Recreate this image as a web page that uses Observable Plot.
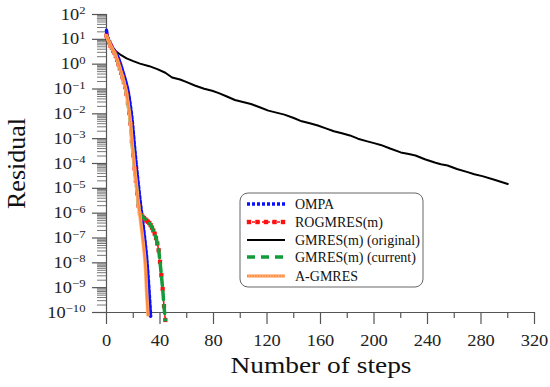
<!DOCTYPE html>
<html>
<head>
<meta charset="utf-8">
<script src="https://cdn.jsdelivr.net/npm/d3@7"></script>
<script src="https://cdn.jsdelivr.net/npm/@observablehq/plot@0.6"></script>
<style>
  html, body { margin: 0; padding: 0; background: #fff; }
  #chart { width: 550px; height: 387px; }
  #chart svg text { font-family: "Liberation Serif", "Times New Roman", serif !important; }
</style>
</head>
<body>
<div id="chart"></div>
<script>
// ---- Data ----
const ompaSteps = [0,1,2,3,4,5,6,7,8,9,10,11,12,13,14,15,16,17,18,19,20,21,22,23,24,25,26,27,28,29,30,31,32,33];
const ompaRes   = [23,11,8.5,6.6,5.2,4.2,3.5,2.9,2.3,1.7,1.2,0.82,0.55,0.36,0.24,0.15,0.087,0.043,0.018,6.8e-3,1.8e-3,4.3e-4,1.2e-4,3.5e-5,1.1e-5,3.5e-6,1.26e-6,4.8e-7,1.7e-7,5.6e-8,1.6e-8,3.2e-9,5.0e-10,7.1e-11];

const rogSteps = [0,1,2,3,4,5,6,7,8,9,10,11,12,13,14,15,16,17,18,19,20,21,22,23,24,25,26,27,28,29,30,31,32,33,34,35,36,37,38,39,40,41,42,43,44];
const rogRes   = [14,10,7.6,5.6,4.5,3.5,2.9,2.1,1.5,1.0,0.68,0.45,0.30,0.19,0.12,0.063,0.028,0.011,4.0e-3,7.9e-4,2.2e-4,6.3e-5,2.0e-5,6.3e-6,2.0e-6,1.0e-6,8.3e-7,7.1e-7,6.3e-7,5.6e-7,5.0e-7,4.5e-7,4.0e-7,3.3e-7,2.6e-7,2.0e-7,1.5e-7,1.0e-7,6.0e-8,3.2e-8,1.1e-8,3.2e-9,8.9e-10,1.8e-10,5.0e-11];

const origSteps = [0,1,2,4,7,11,15,20,25,32,38,44,49,55,60,66,73,79,84,90,96,102,108,115,121,127,133,140,146,152,158,164,170,176,182,188,195,200,205,212,220,226,231,238,246,250,255,262,270,275,281,290,300];
const origRes   = [10,8.5,7.1,5.0,3.3,2.3,1.7,1.32,1.05,0.83,0.63,0.45,0.29,0.24,0.19,0.138,0.102,0.085,0.068,0.050,0.036,0.030,0.025,0.018,0.0135,0.0112,0.0093,0.0068,0.0050,0.0042,0.0034,0.0026,0.0020,0.00166,0.00135,0.0010,7.8e-4,6.6e-4,5.6e-4,4.0e-4,2.8e-4,2.4e-4,2.1e-4,1.48e-4,1.07e-4,9.3e-5,8.3e-5,6.0e-5,4.5e-5,3.7e-5,3.1e-5,2.2e-5,1.5e-5];

const curSteps = [0,1,2,3,4,5,6,7,8,9,10,11,12,13,14,15,16,17,18,19,20,21,22,23,24,25,26,27,28,29,30,31,32,33,34,35,36,37,38,39,40,41,42,43,44];
const curRes   = [14,10,7.6,5.6,4.5,3.5,2.9,2.1,1.5,1.0,0.68,0.45,0.30,0.19,0.12,0.063,0.028,0.011,4.0e-3,7.9e-4,2.2e-4,6.3e-5,2.0e-5,6.3e-6,2.0e-6,1.0e-6,8.3e-7,7.1e-7,6.3e-7,5.6e-7,5.0e-7,4.5e-7,4.0e-7,3.3e-7,2.6e-7,2.0e-7,1.5e-7,1.0e-7,6.0e-8,3.2e-8,1.1e-8,3.2e-9,8.9e-10,1.8e-10,5.0e-11];

const agmSteps = [0,1,2,3,4,5,6,7,8,9,10,11,12,13,14,15,16,17,18,19,20,21,22,23,24,25,26,27,28,29,30,31];
const agmRes   = [14,10,7.6,5.6,4.5,3.5,2.9,2.1,1.5,1.0,0.68,0.45,0.30,0.19,0.12,0.063,0.028,0.011,4.0e-3,7.9e-4,2.2e-4,6.3e-5,2.0e-5,6.3e-6,2.0e-6,7.9e-7,2.8e-7,1.0e-7,3.2e-8,7.9e-9,6.3e-10,7.9e-11];

const seriesNames = ["OMPA", "ROGMRES(m)", "GMRES(m) (original)", "GMRES(m) (current)", "A-GMRES"];

// ---- Ticks ----
const xMajorTicks = [0,40,80,120,160,200,240,280,320];
const xMinorTicks = [20,60,100,140,180,220,260,300];
const yMajorTicks = [1e-10,1e-9,1e-8,1e-7,1e-6,1e-5,1e-4,1e-3,1e-2,1e-1,1e0,1e1,1e2];
const yMinorTicks = [];
for (let k = -10; k < 2; k++) for (let m = 2; m <= 9; m++) yMinorTicks.push(m * Math.pow(10, k));

const xTitle = "Number of steps";
const yTitle = "Residual";

const toRows = (steps, res) => steps.map((s, i) => ({step: s, res: res[i]}));
const ompa = toRows(ompaSteps, ompaRes);
const rog = toRows(rogSteps, rogRes);
const orig = toRows(origSteps, origRes);
const cur = toRows(curSteps, curRes);
const agm = toRows(agmSteps, agmRes);

const axisColor = "#555";
const FONT = "Liberation Serif, Times New Roman, serif";

const colors = {
  ompa: "#0a10ff",
  rog: "#ff1010",
  orig: "#000000",
  cur: "#139a3a",
  agm: "#ff8a3a"
};

const chart = Plot.plot({
  width: 550,
  height: 387,
  marginLeft: 106,
  marginRight: 16,
  marginTop: 14,
  marginBottom: 75,
  style: {fontFamily: FONT, background: "#fff", color: "#222"},
  x: {domain: [0, 320], label: null},
  y: {type: "log", domain: [1e-10, 100], label: null},
  marks: [
    Plot.axisY({ticks: yMinorTicks, tickSize: 9, tickFormat: () => "", stroke: "#777", strokeWidth: 1, label: null}),
    Plot.axisY({ticks: yMajorTicks, tickSize: 14, tickPadding: 7, fontSize: 16, fontFamily: FONT, fill: "#222", stroke: axisColor, strokeWidth: 1.2,
      tickFormat: d => "10^" + Math.round(Math.log10(d)), label: null}),
    Plot.axisX({ticks: xMinorTicks, tickSize: 6, tickFormat: () => "", stroke: axisColor, strokeWidth: 1.2, label: null}),
    Plot.axisX({ticks: xMajorTicks, tickSize: 12, tickPadding: 10, fontSize: 16, fontFamily: FONT, fill: "#222", stroke: axisColor, strokeWidth: 1.2, label: null}),
    Plot.ruleY([1e-10], {stroke: axisColor, strokeWidth: 1.2, insetLeft: -13}),
    Plot.ruleX([0], {stroke: axisColor, strokeWidth: 1.2}),
    // series
    Plot.line(orig, {x: "step", y: "res", stroke: colors.orig, strokeWidth: 2}),
    Plot.line(ompa, {x: "step", y: "res", stroke: colors.ompa, strokeWidth: 3.5, strokeDasharray: "3,2", curve: "catmull-rom"}),
    Plot.line(rog, {x: "step", y: "res", stroke: colors.rog, strokeWidth: 1.6, strokeDasharray: "3,2", curve: "catmull-rom"}),
    Plot.dot(rog, {x: "step", y: "res", fill: colors.rog, symbol: "square", r: 2.4}),
    Plot.line(cur, {x: "step", y: "res", stroke: colors.cur, strokeWidth: 3.5, strokeDasharray: "8,6", curve: "catmull-rom"}),
    Plot.line(agm, {x: "step", y: "res", stroke: "#ffb37f", strokeWidth: 3.5, curve: "catmull-rom"}),
    Plot.line(agm, {x: "step", y: "res", stroke: colors.agm, strokeWidth: 2.2, strokeDasharray: "1.5,1.2", curve: "catmull-rom"})
  ]
});

document.getElementById("chart").appendChild(chart);

const svg = d3.select(chart);

// superscript exponents on the y tick labels; widen tick labels slightly like the reference
svg.selectAll("text").each(function () {
  const t = d3.select(this);
  const s = t.text();
  if (s === "") return;
  if (/^10\^-?\d+$/.test(s)) {
    const exp = s.split("^")[1].replace("-", "\u2212");
    t.text("");
    t.append("tspan").text("10");
    t.append("tspan").attr("dy", "-0.5em").attr("font-size", "11px").text(exp);
  }
  try {
    const len = this.getComputedTextLength();
    if (len > 0) t.attr("textLength", (len * 1.15).toFixed(1)).attr("lengthAdjust", "spacingAndGlyphs");
  } catch (e) {}
});

// axis titles
svg.append("text")
  .attr("x", 321).attr("y", 373)
  .attr("text-anchor", "middle")
  .attr("font-size", 23).attr("fill", "#111")
  .attr("textLength", 181).attr("lengthAdjust", "spacingAndGlyphs")
  .text(xTitle);

svg.append("text")
  .attr("transform", "translate(25,163.5) rotate(-90)")
  .attr("text-anchor", "middle")
  .attr("font-size", 26).attr("fill", "#111")
  .text(yTitle);

// legend
const lg = svg.append("g");
lg.append("rect").attr("x", 240).attr("y", 193).attr("width", 183).attr("height", 94)
  .attr("rx", 8).attr("fill", "#fff").attr("stroke", "#666").attr("stroke-width", 1);
const rowsY = [204, 222, 240, 257, 276];
const x0 = 247, x1 = 285;
const samples = [
  g => g.append("line").attr("stroke", colors.ompa).attr("stroke-width", 3.5).attr("stroke-dasharray", "3,2"),
  g => g.append("line").attr("stroke", colors.rog).attr("stroke-width", 1.6).attr("stroke-dasharray", "3,2"),
  g => g.append("line").attr("stroke", colors.orig).attr("stroke-width", 2),
  g => g.append("line").attr("stroke", colors.cur).attr("stroke-width", 3.5).attr("stroke-dasharray", "8,6"),
  g => { g.append("line").attr("stroke", "#ffb37f").attr("stroke-width", 3.5); g.append("line").attr("stroke", colors.agm).attr("stroke-width", 2.2).attr("stroke-dasharray", "1.5,1.2"); }
];
seriesNames.forEach((name, i) => {
  const g = lg.append("g");
  samples[i](g);
  g.selectAll("line").attr("x1", x0).attr("x2", x1).attr("y1", rowsY[i]).attr("y2", rowsY[i]);
  if (i === 1) {
    [0, 1, 2, 3, 4].forEach(k => {
      g.append("rect").attr("x", x0 + 2 + k * 8.5 - 2.2).attr("y", rowsY[i] - 2.2).attr("width", 4.4).attr("height", 4.4).attr("fill", colors.rog);
    });
  }
  g.append("text").attr("x", 295).attr("y", rowsY[i]).attr("dy", "0.35em")
    .attr("text-anchor", "start")
    .attr("font-size", 14).attr("fill", "#111").text(name);
});
</script>
</body>
</html>
